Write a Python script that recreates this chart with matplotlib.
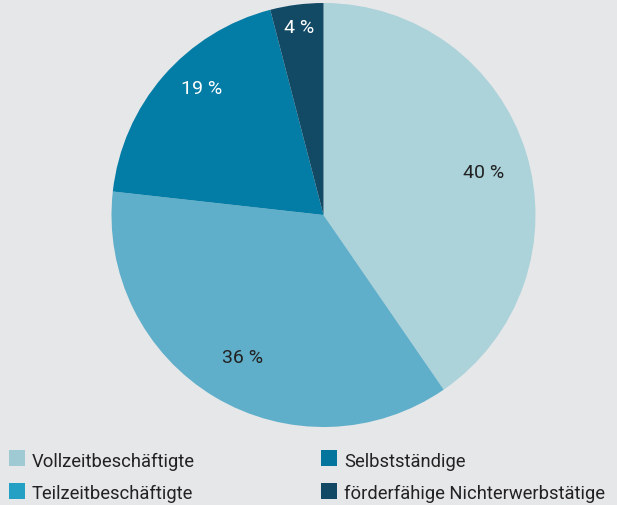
import matplotlib
matplotlib.use("Agg")
import matplotlib.pyplot as plt
from matplotlib.patches import Rectangle
import numpy as np

categories = ["Vollzeitbeschäftigte", "Teilzeitbeschäftigte", "Selbstständige", "förderfähige Nichterwerbstätige"]
values = [40, 36, 19, 4]
labels = ["40 %", "36 %", "19 %", "4 %"]

pie_colors = ["#acd2da", "#60afca", "#047da6", "#124a66"]
legend_colors = ["#9fcad3", "#23a0c4", "#04769e", "#124a66"]
label_colors = ["#222222", "#222222", "#ffffff", "#ffffff"]
label_radius = [0.78, 0.775, 0.825, 0.89]
label_frac = [0.517, 0.488, 0.573, 0.5]

bg = "#e6e7e9"
W, H = 617, 505
fig = plt.figure(figsize=(W / 100, H / 100), dpi=100, facecolor=bg)
cx, cy, r = 323.5, 215, 212
ax = fig.add_axes([(cx - r) / W, (H - cy - r) / H, 2 * r / W, 2 * r / H])
ax.set_facecolor(bg)
wedges, _ = ax.pie(values, colors=pie_colors, startangle=90, counterclock=False,
                   radius=1, wedgeprops=dict(linewidth=0))
ax.set_xlim(-1, 1)
ax.set_ylim(-1, 1)
ax.set_aspect("equal")
ax.axis("off")

font = ["Roboto", "DejaVu Sans"]
for w, lab, col, rr, fr in zip(wedges, labels, label_colors, label_radius, label_frac):
    # wedges drawn clockwise: theta2 is the start, theta1 the end
    a = w.theta2 + (w.theta1 - w.theta2) * fr
    ang = np.deg2rad(a)
    ax.text(rr * np.cos(ang), rr * np.sin(ang), lab, ha="center", va="center",
            color=col, fontsize=14, family=font)

# legend (square top-left corner in pixels, text baseline)
leg_sq = [(9, 450), (9, 483), (321, 450), (321, 483)]
leg_base = [467, 499, 467, 499]
for (lx, ly), yb, cat, col in zip(leg_sq, leg_base, categories, legend_colors):
    fig.patches.append(Rectangle((lx / W, (H - ly - 16) / H), 16 / W, 16 / H,
                                 transform=fig.transFigure, facecolor=col, edgecolor="none"))
    fig.text((lx + 23) / W, (H - yb) / H, cat, ha="left", va="baseline",
             fontsize=13.2, color="#222222", family=font)

fig.savefig("out.png", dpi=100, facecolor=bg)
